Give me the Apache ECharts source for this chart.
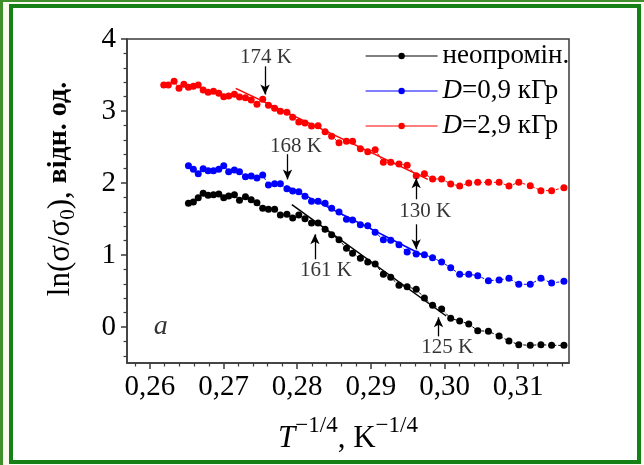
<!DOCTYPE html>
<html><head><meta charset="utf-8">
<script src="https://cdn.jsdelivr.net/npm/echarts@6/dist/echarts.min.js"></script>
<style>html,body{margin:0;padding:0;background:#fff}#c{width:644px;height:465px}</style>
</head><body><div id="c"></div><script>
// shared abscissae (T^-1/4) for all three series
const xShared = [0.26524,0.26591,0.26657,0.26724,0.26791,0.26864,0.26936,0.27003,0.27070,0.27148,
  0.27217,0.27298,0.27376,0.27454,0.27532,0.27610,0.27694,0.27772,0.27861,0.27939,
  0.28022,0.28106,0.28195,0.28284,0.28379,0.28468,0.28568,0.28669,0.28752,0.28858,
  0.28958,0.29059,0.29170,0.29270,0.29382,0.29493,0.29616,0.29727,0.29838,0.29961,
  0.30084,0.30206,0.30329,0.30451,0.30596,0.30741,0.30875,0.31008,0.31164,0.31309,
  0.31454,0.31621];
const xRedExtra = [0.26189,0.26251,0.26329,0.26396,0.26462];
const yRedExtra = [3.361,3.361,3.412,3.315,3.370];
const yBlack = [1.718,1.736,1.796,1.856,1.829,1.838,1.847,1.796,1.819,1.838,
  1.759,1.810,1.769,1.727,1.648,1.634,1.634,1.556,1.565,1.514,
  1.556,1.505,1.444,1.444,1.356,1.282,1.213,1.093,1.023,0.954,
  0.903,0.875,0.731,0.690,0.579,0.560,0.523,0.403,0.301,0.250,
  0.120,0.083,0.042,-0.051,-0.060,-0.125,-0.194,-0.245,-0.255,-0.245,
  -0.255,-0.255];
const yBlue = [2.241,2.190,2.130,2.199,2.171,2.171,2.190,2.241,2.157,2.181,
  2.157,2.088,2.097,2.069,2.111,1.972,1.991,1.991,1.921,1.889,
  1.880,1.815,1.745,1.745,1.718,1.648,1.597,1.495,1.486,1.421,
  1.407,1.315,1.213,1.204,1.144,1.042,1.014,1.005,0.963,0.903,
  0.824,0.731,0.731,0.713,0.644,0.653,0.676,0.593,0.593,0.676,
  0.611,0.634];
const yRedMain = [3.329,3.343,3.361,3.292,3.259,3.273,3.245,3.199,3.208,3.231,
  3.194,3.185,3.153,3.093,3.162,3.079,3.037,2.995,2.981,2.912,
  2.847,2.833,2.792,2.796,2.713,2.648,2.560,2.579,2.579,2.477,
  2.435,2.463,2.287,2.287,2.264,2.245,2.102,2.130,2.056,2.056,
  1.986,1.958,2.000,2.009,2.009,2.009,1.958,2.009,1.963,1.894,
  1.894,1.935];
const seriesNames = ['неопромін.', 'D=0,9 кГр', 'D=2,9 кГр'];
// linear fits
const fitBlack = [[0.27928,1.70],[0.30023,0.153]];
const fitBlue = [[0.2785,1.96],[0.2972,0.99]];
const fitRed = [[0.27166,3.315],[0.29774,2.05]];
// annotations
const noteTexts = ['174 K','168 K','130 K','161 K','125 K'];
const noteX = [0.27577,0.27982,0.29738,0.2839,0.30037];
const noteY = [3.74,2.51,1.60,0.79,-0.28];
const arrowX = [0.27564,0.27869,0.29615,0.29615,0.28241,0.29919];
const arrowFrom = [3.62,2.40,1.774,1.426,0.94,-0.13];
const arrowTo = [3.23,2.05,2.065,1.079,1.287,0.135];
const panelLabel = 'a';
const panelPos = [0.26147,0.01];
// axes
const xMin = 0.2569, xMax = 0.3169;
const xMajor = [0.26,0.27,0.28,0.29,0.30,0.31];
const xMinor = [0.258,0.262,0.264,0.266,0.268,0.272,0.274,0.276,0.278,0.282,0.284,0.286,0.288,0.292,0.294,0.296,0.298,0.302,0.304,0.306,0.308,0.312,0.314,0.316];
const yMin = -0.5, yMax = 4;
const yMajor = [0,1,2,3,4];
const yMinor = [-0.4,-0.2,0.2,0.4,0.6,0.8,1.2,1.4,1.6,1.8,2.2,2.4,2.6,2.8,3.2,3.4,3.6,3.8];

const FONT = '"Liberation Serif","Times New Roman",serif';
const AX = '#3a3a3a';
const zip = (xs, ys) => xs.map((x, i) => [x, ys[i]]);

const chart = echarts.init(document.getElementById('c'), null, {renderer: 'canvas'});
const dataSeries = (name, data, color) => ({
  name, type: 'line', data, symbol: 'circle', symbolSize: 7,
  itemStyle: {color}, lineStyle: {color, width: 1, type: [3, 2]},
  z: 3
});
const fitSeries = (data, color) => ({
  type: 'line', data, symbol: 'none', lineStyle: {color, width: 1.5}, z: 2, silent: true
});
const rich = {i: {fontStyle: 'italic', fontFamily: FONT, fontSize: 27, color: '#000'}, n: {fontFamily: FONT, fontSize: 27, color: '#000'}};

const option = {
  animation: false,
  backgroundColor: '#fff',
  grid: {left: 127, right: 75, top: 39, bottom: 102, show: true, borderColor: AX, borderWidth: 1.5, backgroundColor: 'transparent'},
  legend: {
    data: seriesNames, orient: 'vertical', left: 360, top: 37,
    itemWidth: 72, itemHeight: 8, itemGap: 7,
    lineStyle: {type: 'solid', width: 1.2},
    textStyle: {fontFamily: FONT, fontSize: 27, color: '#000', lineHeight: 28, rich},
    formatter: n => n.startsWith('D') ? '{i|D}{n|' + n.slice(1) + '}' : '{n|' + n + '}'
  },
  xAxis: [{
    type: 'value', min: xMin, max: xMax, position: 'bottom',
    axisLine: {show: true, onZero: false, lineStyle: {color: AX, width: 1.5}},
    axisTick: {show: true, customValues: xMajor, length: 6, lineStyle: {color: AX, width: 1.5}},
    axisLabel: {customValues: xMajor, margin: 10, fontFamily: FONT, fontSize: 29, color: '#000',
      formatter: v => v.toFixed(2).replace('.', ',')},
    splitLine: {show: false}
  }, {
    type: 'value', min: xMin, max: xMax, position: 'bottom',
    axisLine: {show: false, onZero: false},
    axisTick: {show: true, customValues: xMinor, length: 3.5, lineStyle: {color: AX, width: 1.2}},
    axisLabel: {show: false}, splitLine: {show: false}
  }],
  yAxis: [{
    type: 'value', min: yMin, max: yMax, position: 'left',
    axisLine: {show: true, onZero: false, lineStyle: {color: AX, width: 1.5}},
    axisTick: {show: true, customValues: yMajor, length: 6, lineStyle: {color: AX, width: 1.5}},
    axisLabel: {customValues: yMajor, margin: 11, fontFamily: FONT, fontSize: 29, color: '#000'},
    splitLine: {show: false}
  }, {
    type: 'value', min: yMin, max: yMax, position: 'left',
    axisLine: {show: false, onZero: false},
    axisTick: {show: true, customValues: yMinor, length: 3.5, lineStyle: {color: AX, width: 1.2}},
    axisLabel: {show: false}, splitLine: {show: false}
  }],
  series: [
    dataSeries(seriesNames[0], zip(xShared, yBlack), '#000000'),
    dataSeries(seriesNames[1], zip(xShared, yBlue), '#0000ff'),
    dataSeries(seriesNames[2], zip(xRedExtra.concat(xShared), yRedExtra.concat(yRedMain)), '#ff0000'),
    fitSeries(fitBlack, '#000000'),
    fitSeries(fitBlue, '#0000ff'),
    fitSeries(fitRed, '#ff0000'),
    {
      type: 'scatter', silent: true, symbolSize: 1, itemStyle: {color: 'rgba(0,0,0,0)'},
      data: noteTexts.map((t, i) => ({name: t, value: [noteX[i], noteY[i]]})),
      label: {show: true, position: 'inside', formatter: p => p.name, fontFamily: FONT, fontSize: 21, color: '#000'},
      markLine: {
        silent: true, symbol: ['none', 'arrow'], symbolSize: [7, 10],
        lineStyle: {color: '#000', width: 1.3, type: 'solid'}, label: {show: false},
        data: arrowX.map((x, i) => [{coord: [x, arrowFrom[i]]}, {coord: [x, arrowTo[i]]}])
      }
    },
    {
      type: 'scatter', silent: true, symbolSize: 1, itemStyle: {color: 'rgba(0,0,0,0)'},
      data: [{name: panelLabel, value: panelPos}],
      label: {show: true, position: 'inside', formatter: p => p.name, fontFamily: FONT, fontStyle: 'italic', fontSize: 28, color: '#000'}
    }
  ],
  graphic: [
    {type: 'rect', z: -10, shape: {x: 0, y: 0, width: 644, height: 465}, style: {fill: '#fbfbf0'}},
    {type: 'rect', z: -9, shape: {x: 0, y: 0, width: 3, height: 465}, style: {fill: '#3f8f2c'}},
    {type: 'rect', z: -9, shape: {x: 0, y: 0, width: 644, height: 2}, style: {fill: '#3f8f2c'}},
    {type: 'rect', z: -8, shape: {x: 11, y: 6, width: 628, height: 456}, style: {fill: '#ffffff', stroke: '#158015', lineWidth: 4}},
    {type: 'text', x: 348, y: 434, style: {
      text: '{t|T}{s|−1/4}{n|, K}{s|−1/4}', align: 'center', verticalAlign: 'middle',
      rich: {
        t: {fontFamily: FONT, fontStyle: 'italic', fontSize: 31, color: '#000', lineHeight: 40, verticalAlign: 'bottom'},
        n: {fontFamily: FONT, fontSize: 31, color: '#000', lineHeight: 40, verticalAlign: 'bottom'},
        s: {fontFamily: FONT, fontSize: 23, color: '#000', lineHeight: 40, verticalAlign: 'top'}
      }}},
    {type: 'text', x: 62, y: 189, rotation: Math.PI / 2, style: {
      text: '{n|ln(σ/σ}{b|0}{n|), }{w|відн. од.}', align: 'center', verticalAlign: 'middle',
      rich: {
        n: {fontFamily: FONT, fontSize: 31, color: '#000', lineHeight: 34, verticalAlign: 'top'},
        b: {fontFamily: FONT, fontSize: 21, color: '#000', lineHeight: 34, verticalAlign: 'bottom'},
        w: {fontFamily: FONT, fontSize: 28, fontWeight: 'bold', color: '#000', lineHeight: 34, verticalAlign: 'top'}
      }}}
  ]
};
chart.setOption(option);
</script></body></html>
